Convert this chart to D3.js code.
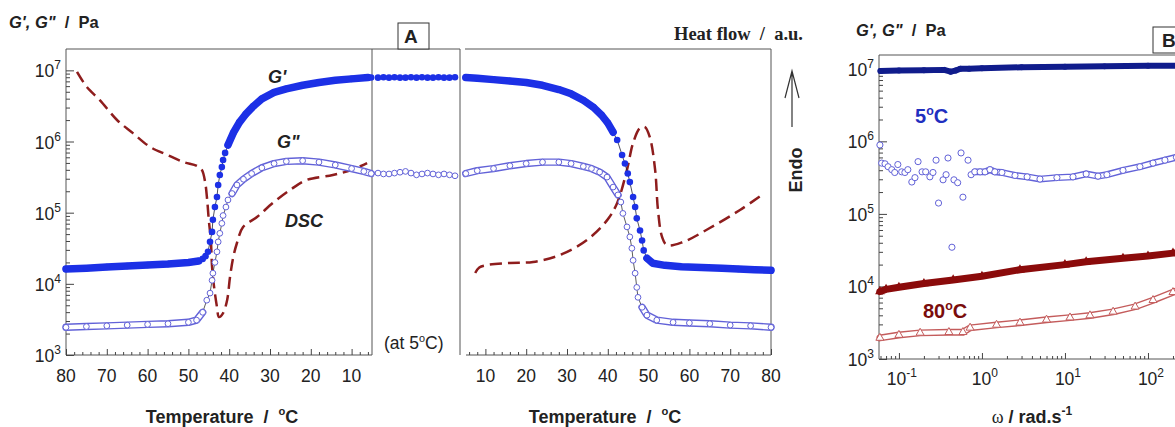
<!DOCTYPE html>
<html>
<head>
<meta charset="utf-8">
<script src="https://cdnjs.cloudflare.com/ajax/libs/d3/7.8.5/d3.min.js"></script>
<style>
  body { margin: 0; background: #fff; }
  svg { display: block; font-family: Arial, 'Liberation Sans', sans-serif; }
</style>
</head>
<body>
<svg id="chart" width="1175" height="427"></svg>
<script>
// ---- panel A, cooling 80 -> 5 C
const coolTp  = [80, 75, 70, 65, 60, 55, 50, 47.5, 46.5, 45.8, 45.2, 44.7, 44.2, 44.0, 43.5, 43.0, 42.7, 42.3, 41.8, 41.5, 41.0, 40.3, 39.0, 37.5, 36.0, 34.0, 32.0, 29.0, 26.0, 22.0, 18.0, 14.0, 10.0, 6.0, 5.2];
const coolGp  = [1.62e4, 1.66e4, 1.72e4, 1.78e4, 1.84e4, 1.9e4, 2.0e4, 2.09e4, 2.24e4, 2.45e4, 2.82e4, 3.89e4, 5.37e4, 7.94e4, 1.2e5, 1.66e5, 2.45e5, 3.39e5, 4.37e5, 5.5e5, 6.92e5, 8.9e5, 1.32e6, 1.86e6, 2.4e6, 3.16e6, 3.98e6, 4.9e6, 5.5e6, 6.17e6, 6.76e6, 7.24e6, 7.59e6, 7.94e6, 7.94e6];
const coolTpp = [80, 75, 70, 65, 60, 55, 50, 48, 46.5, 45.5, 44.7, 44.2, 44.0, 43.5, 43.0, 42.7, 42.3, 41.8, 41.5, 40.8, 40.3, 39.3, 38.1, 36.5, 34.5, 32, 29, 26, 22, 18, 14, 10, 7, 5.2];
const coolGpp = [2.45e3, 2.51e3, 2.57e3, 2.63e3, 2.69e3, 2.75e3, 2.88e3, 3.09e3, 3.98e3, 5.89e3, 7.41e3, 1.12e4, 1.41e4, 2.0e4, 2.82e4, 3.89e4, 5.13e4, 7.08e4, 9.12e4, 1.2e5, 1.51e5, 1.86e5, 2.45e5, 2.95e5, 3.55e5, 4.27e5, 4.9e5, 5.25e5, 5.37e5, 5.13e5, 4.68e5, 4.17e5, 3.8e5, 3.55e5];

// ---- panel A, isothermal at 5 C
const midGp  = [7.9e6, 8.0e6, 7.9e6, 8.0e6, 7.9e6, 7.9e6, 8.0e6, 7.9e6, 8.0e6, 7.9e6, 7.9e6, 8.0e6, 7.9e6, 7.9e6, 8.0e6];
const midGpp = [3.6e5, 3.5e5, 3.5e5, 3.6e5, 3.7e5, 3.8e5, 3.6e5, 3.4e5, 3.5e5, 3.6e5, 3.5e5, 3.4e5, 3.5e5, 3.4e5, 3.3e5];

// ---- panel A, heating 5 -> 80 C
const heatTp  = [5.2, 8, 12, 16, 20, 24, 28, 31, 34, 36.5, 38.5, 40, 41.3, 42.3, 43.5, 44.2, 44.9, 45.4, 46.2, 46.7, 47.1, 47.9, 48.4, 48.8, 49.6, 51, 54, 58, 63, 68, 72, 76, 80];
const heatGp  = [7.94e6, 7.76e6, 7.41e6, 7.08e6, 6.76e6, 6.17e6, 5.37e6, 4.68e6, 3.8e6, 3.02e6, 2.34e6, 1.82e6, 1.35e6, 1.05e6, 6.46e5, 4.9e5, 3.55e5, 2.69e5, 1.66e5, 1.2e5, 8.32e4, 5.62e4, 4.07e4, 2.95e4, 2.29e4, 1.95e4, 1.82e4, 1.74e4, 1.7e4, 1.66e4, 1.62e4, 1.58e4, 1.55e4];
const heatTpp = [5.2, 8, 12, 16, 20, 24, 28, 31, 34, 36, 38, 39.8, 41.3, 42.5, 43.2, 43.7, 44.7, 45.4, 45.9, 46.2, 46.7, 47.1, 47.4, 48.4, 49.6, 52, 56, 60, 65, 70, 75, 80];
const heatGpp = [3.55e5, 3.89e5, 4.17e5, 4.57e5, 4.9e5, 5.13e5, 5.13e5, 4.9e5, 4.47e5, 4.17e5, 3.72e5, 3.16e5, 2.29e5, 1.78e5, 1.41e5, 9.77e4, 6.31e4, 4.57e4, 3.16e4, 2.14e4, 1.41e4, 8.91e3, 6.46e3, 4.68e3, 3.63e3, 3.09e3, 2.88e3, 2.82e3, 2.75e3, 2.63e3, 2.57e3, 2.45e3];

// ---- DSC heat flow (a.u.)
const dscCoolT = [77.3, 74.9, 71.7, 67.5, 63.6, 59.4, 55.2, 51.3, 47.9, 46.7, 45.9, 45.4, 45.0, 44.5, 44.2, 43.7, 43.0, 42.5, 41.5, 40.5, 39.8, 39.0, 38.1, 36.6, 33.2, 29.3, 25.1, 21, 14.6, 10, 6.2];
const dscCool  = [92.5, 87.6, 83.3, 76.8, 72.5, 68, 65.4, 63.1, 61.8, 60.5, 56.5, 50.7, 44.1, 37.6, 28.8, 22.2, 15.7, 12.4, 13.7, 18, 25.5, 32, 36.6, 41.8, 45.1, 49.7, 53.9, 57.2, 58.8, 60.5, 62.7];
const dscHeatT = [7.5, 8.5, 10.4, 16, 21.7, 28.3, 34.9, 39.8, 42.3, 44.7, 46.2, 47.9, 49.1, 50.3, 51.6, 52.3, 53.3, 54.5, 58.4, 65, 72.4, 77.8];
const dscHeat  = [26.8, 28.6, 29.4, 30.1, 30.4, 32.7, 37.6, 44, 49.7, 60.5, 69.3, 74.2, 74.5, 71.2, 60.5, 47.4, 38.6, 35.9, 36.9, 41.5, 47.4, 52.3];

// ---- panel B, frequency sweeps
const wGp5  = [0.06, 0.1, 0.2, 0.35, 0.42, 0.48, 0.55, 0.7, 1, 3, 10, 30, 100, 300];
const gp5   = [9.33e6, 9.44e6, 9.55e6, 9.66e6, 9.12e6, 9.44e6, 1.0e7, 1.0e7, 1.02e7, 1.05e7, 1.07e7, 1.08e7, 1.1e7, 1.1e7];
const wGpp5 = [0.059, 0.062, 0.068, 0.074, 0.082, 0.089, 0.097, 0.108, 0.118, 0.128, 0.143, 0.156, 0.17, 0.19, 0.21, 0.236, 0.257, 0.28, 0.30, 0.34, 0.37, 0.39, 0.435, 0.46, 0.51, 0.56, 0.59, 0.68, 0.74, 0.82, 0.95, 1.09, 1.25, 1.43, 1.74, 2.5, 3.5, 5, 8, 12.5, 18, 25, 32, 50, 80, 115, 160, 220, 300];
const gpp5  = [8.91e5, 5.01e5, 4.9e5, 4.47e5, 4.07e5, 3.72e5, 4.79e5, 3.8e5, 3.72e5, 4.07e5, 2.75e5, 3.16e5, 5.25e5, 3.8e5, 3.8e5, 3.24e5, 3.72e5, 5.5e5, 1.41e5, 2.95e5, 3.47e5, 5.89e5, 3.47e4, 2.95e5, 2.69e5, 6.92e5, 1.7e5, 5.5e5, 3.47e5, 3.8e5, 3.8e5, 3.8e5, 4.07e5, 3.8e5, 3.72e5, 3.39e5, 3.24e5, 3.02e5, 3.16e5, 3.24e5, 3.55e5, 3.31e5, 3.47e5, 3.98e5, 4.47e5, 5.01e5, 5.5e5, 6.03e5, 6.61e5];
const wGp80  = [0.059, 0.07, 0.1, 0.2, 0.45, 1, 2.87, 10, 18, 50, 100, 200, 300];
const gp80   = [8.51e3, 9.12e3, 9.77e3, 1.1e4, 1.23e4, 1.38e4, 1.7e4, 2.0e4, 2.19e4, 2.45e4, 2.63e4, 2.88e4, 3.02e4];
const wGpp80 = [0.059, 0.1, 0.18, 0.4, 0.59, 0.72, 1.5, 2.87, 6, 11.5, 20, 38, 70, 115, 200, 300];
const gpp80  = [1.95e3, 2.14e3, 2.29e3, 2.34e3, 2.34e3, 2.69e3, 2.95e3, 3.16e3, 3.47e3, 3.72e3, 3.98e3, 4.47e3, 5.25e3, 6.46e3, 8.32e3, 1.0e4];

const tempTicks = [10, 20, 30, 40, 50, 60, 70, 80];
const decades = [1e3, 1e4, 1e5, 1e6, 1e7];
const freqDecades = [0.1, 1, 10, 100];

const svg = d3.select("#chart");

// scales
const yA = d3.scaleLog().domain([1e3, Math.pow(10, 7.3)]).range([355, 49]);
const xCool = d3.scaleLinear().domain([80, 5]).range([66, 372]);
const xHeat = d3.scaleLinear().domain([5, 80]).range([465, 771]);
const xMid = d3.scaleLinear().domain([0, midGp.length - 1]).range([378, 455]);
const yDsc = d3.scaleLinear().domain([0, 100]).range([355, 49]);
const xB = d3.scaleLog().domain([Math.pow(10, -1.24), 1e3]).range([879, 1231]);
const yB = d3.scaleLog().domain([1e3, Math.pow(10, 7.19)]).range([359, 55]);

// colours
const cGp = "#1c30e6", cGpp = "#6262d8", cDsc = "#8e1d1d";
const cNavy = "#101c8c", cRed = "#8b0b0b", cPink = "#c45c5c";

// frames
const frame = svg.append("g").attr("stroke", "#555").attr("stroke-width", 1).attr("fill", "none");
function seg(x1, y1, x2, y2) {
  frame.append("line").attr("x1", x1).attr("y1", y1).attr("x2", x2).attr("y2", y2);
}
seg(66, 49, 460, 49); seg(66, 49, 66, 355); seg(66, 355, 372, 355);
seg(372, 49, 372, 355); seg(460, 49, 460, 355);
seg(465, 49, 771, 49); seg(466, 355, 771, 355); seg(771, 49, 771, 355);
seg(879, 55, 1175, 55); seg(879, 55, 879, 359); seg(879, 359, 1175, 359);

// axes helpers
function minorLog(lo, hi, domainMax) {
  const out = [];
  for (let e = lo; e <= hi; e++) for (let m = 2; m <= 9; m++) {
    const v = m * Math.pow(10, e);
    if (v < domainMax) out.push(v);
  }
  return out;
}
function bottomTicks(scale, y, majors, minors) {
  const g = svg.append("g").attr("transform", `translate(0,${y})`).attr("color", "#444");
  g.append("g").call(d3.axisBottom(scale).tickValues(minors).tickSize(-3).tickFormat(""))
    .call(s => s.select(".domain").remove());
  g.append("g").call(d3.axisBottom(scale).tickValues(majors).tickSize(-6).tickFormat(""))
    .call(s => s.select(".domain").remove());
}
function leftTicks(scale, x, majors, minors) {
  const g = svg.append("g").attr("transform", `translate(${x},0)`).attr("color", "#444");
  g.append("g").call(d3.axisLeft(scale).tickValues(minors).tickSize(-4).tickFormat(""))
    .call(s => s.select(".domain").remove());
  g.append("g").call(d3.axisLeft(scale).tickValues(majors).tickSize(-8).tickFormat(""))
    .call(s => s.select(".domain").remove());
}
function powLabel(sel, exp) {
  sel.append("tspan").text("10");
  sel.append("tspan").attr("dy", -8).attr("font-size", 12).text(exp);
}

const minorTempCool = d3.range(6, 81, 2).filter(d => d % 10 !== 0);
bottomTicks(xCool, 355, tempTicks, minorTempCool);
bottomTicks(xHeat, 355, tempTicks, minorTempCool);
leftTicks(yA, 66, decades, minorLog(3, 7, Math.pow(10, 7.25)));
bottomTicks(xB, 359, freqDecades.concat([1000]), minorLog(-2, 2, 1e3).filter(v => v > xB.domain()[0]));
leftTicks(yB, 879, decades, minorLog(3, 7, Math.pow(10, 7.15)));

// tick labels
const lab = svg.append("g").attr("fill", "#222").attr("font-size", 17.5);
lab.selectAll("text.tc").data(tempTicks).join("text").attr("class", "tc")
  .attr("x", d => xCool(d)).attr("y", 382).attr("text-anchor", "middle").text(d => d);
lab.selectAll("text.th").data(tempTicks).join("text").attr("class", "th")
  .attr("x", d => xHeat(d)).attr("y", 382).attr("text-anchor", "middle").text(d => d);
lab.selectAll("text.ya").data(decades).join("text").attr("class", "ya")
  .attr("x", 61).attr("y", d => yA(d) + 7).attr("text-anchor", "end")
  .each(function(d) { powLabel(d3.select(this), Math.round(Math.log10(d))); });
lab.selectAll("text.yb").data(decades).join("text").attr("class", "yb")
  .attr("x", 874).attr("y", d => yB(d) + 7).attr("text-anchor", "end")
  .each(function(d) { powLabel(d3.select(this), Math.round(Math.log10(d))); });
lab.selectAll("text.xb").data(freqDecades).join("text").attr("class", "xb")
  .attr("x", d => xB(d) + 3).attr("y", 385).attr("text-anchor", "middle")
  .each(function(d) { powLabel(d3.select(this), Math.round(Math.log10(d))); });

// DSC dashed curves
const dscLine = d3.line().curve(d3.curveCatmullRom.alpha(0.5));
svg.append("path")
  .attr("d", dscLine(dscCoolT.map((t, i) => [xCool(t), yDsc(dscCool[i])])))
  .attr("fill", "none").attr("stroke", cDsc).attr("stroke-width", 2.5).attr("stroke-dasharray", "12,6");
svg.append("path")
  .attr("d", dscLine(dscHeatT.map((t, i) => [xHeat(t), yDsc(dscHeat[i])])))
  .attr("fill", "none").attr("stroke", cDsc).attr("stroke-width", 2.5).attr("stroke-dasharray", "12,6");

// dense-marker series: thin joining line, a band where markers crowd, then markers
function series(xs, ys, sx, sy, o) {
  const g = svg.append("g");
  const pts = xs.map((x, i) => [sx(x), sy(ys[i])]);
  const line = d3.line();
  if (o.thin) {
    g.append("path").attr("d", line(pts)).attr("fill", "none")
      .attr("stroke", o.thin).attr("stroke-width", 0.8);
  }
  if (o.band) {
    const runs = [];
    let cur = null;
    for (let i = 0; i < pts.length - 1; i++) {
      const dx = Math.abs(pts[i + 1][0] - pts[i][0]);
      const dy = Math.abs(pts[i + 1][1] - pts[i][1]);
      if (dx >= 4.5 && dy <= 2.5 * dx) {
        if (!cur) { cur = [pts[i]]; runs.push(cur); }
        cur.push(pts[i + 1]);
      } else cur = null;
    }
    const layers = o.open ? [[o.color, o.band + 1.4], ["#fff", o.band - 1.4]] : [[o.color, o.band]];
    layers.forEach(([c, w]) => {
      g.append("g").selectAll("path").data(runs).join("path")
        .attr("d", line).attr("fill", "none").attr("stroke", c).attr("stroke-width", w)
        .attr("stroke-linecap", "round").attr("stroke-linejoin", "round");
    });
  }
  const sym = d3.symbol().type(o.tri ? d3.symbolTriangle : d3.symbolCircle).size(o.size);
  g.append("g").selectAll("path").data(pts).join("path")
    .attr("transform", d => `translate(${d[0]},${d[1]})`)
    .attr("d", sym)
    .attr("fill", o.open ? "#fff" : o.color)
    .attr("stroke", o.color).attr("stroke-width", o.open ? 1 : 0);
}

series(coolTpp, coolGpp, xCool, yA, { color: cGpp, open: true, band: 6, size: 26, thin: "#333" });
series(coolTp, coolGp, xCool, yA, { color: cGp, band: 7.5, size: 34, thin: "#223" });
series(d3.range(midGpp.length), midGpp, xMid, yA, { color: cGpp, open: true, size: 26 });
series(d3.range(midGp.length), midGp, xMid, yA, { color: cGp, size: 34 });
series(heatTpp, heatGpp, xHeat, yA, { color: cGpp, open: true, band: 6, size: 26, thin: "#333" });
series(heatTp, heatGp, xHeat, yA, { color: cGp, band: 7.5, size: 34, thin: "#223" });

series(wGpp80, gpp80, xB, yB, { color: cPink, open: true, tri: true, band: 5.5, size: 28 });
series(wGp80, gp80, xB, yB, { color: cRed, tri: true, band: 7, size: 40 });
series(wGpp5, gpp5, xB, yB, { color: cGpp, open: true, band: 5.5, size: 30 });
series(wGp5, gp5, xB, yB, { color: cNavy, band: 6, size: 28 });

// text annotations
const txt = svg.append("g").attr("fill", "#222");
function degText(x, y, before, after, size, attrs) {
  const t = txt.append("text").attr("x", x).attr("y", y).attr("font-size", size);
  Object.entries(attrs || {}).forEach(([k, v]) => t.attr(k, v));
  t.append("tspan").text(before);
  t.append("tspan").attr("dy", -size * 0.42).attr("font-size", size * 0.62).text("o");
  t.append("tspan").attr("dy", size * 0.42).text(after);
  return t;
}

// y titles
[[9, 28], [856, 36]].forEach(([x, y]) => {
  const t = txt.append("text").attr("x", x).attr("y", y).attr("font-size", 16.5).attr("font-weight", "bold");
  t.append("tspan").attr("font-style", "italic").text("G', G\"");
  t.append("tspan").attr("xml:space", "preserve").text("  /  Pa");
});

// x titles
degText(222, 423, "Temperature  /  ", "C", 18, { "font-weight": "bold", "text-anchor": "middle", "xml:space": "preserve" });
degText(605, 423, "Temperature  /  ", "C", 18, { "font-weight": "bold", "text-anchor": "middle", "xml:space": "preserve" });
{
  const t = txt.append("text").attr("x", 1032).attr("y", 423).attr("font-size", 18)
    .attr("font-weight", "bold").attr("text-anchor", "middle").attr("xml:space", "preserve");
  t.append("tspan").attr("font-family", "'Liberation Serif', 'DejaVu Serif', serif").attr("font-weight", "normal").text("\u03c9");
  t.append("tspan").text(" / rad.s");
  t.append("tspan").attr("dy", -8).attr("font-size", 12).text("-1");
}

// heat flow axis
txt.append("text").attr("x", 803).attr("y", 40).attr("text-anchor", "end")
  .attr("font-family", "'Liberation Serif', 'Times New Roman', serif").attr("font-weight", "bold")
  .attr("font-size", 18.5).attr("xml:space", "preserve").text("Heat flow  /  a.u.");
svg.append("path").attr("d", "M792,127 L792,71 M785,98 L792,71 L799,98")
  .attr("fill", "none").attr("stroke", "#333").attr("stroke-width", 1.2);
txt.append("text").attr("transform", "translate(802,170) rotate(-90)").attr("text-anchor", "middle")
  .attr("font-weight", "bold").attr("font-size", 18).text("Endo");

// curve labels
txt.append("text").attr("x", 268).attr("y", 83).attr("font-size", 18).attr("font-weight", "bold")
  .attr("font-style", "italic").text("G'");
txt.append("text").attr("x", 277).attr("y", 148).attr("font-size", 18).attr("font-weight", "bold")
  .attr("font-style", "italic").text("G\"");
txt.append("text").attr("x", 285).attr("y", 227).attr("font-size", 18).attr("font-weight", "bold")
  .attr("font-style", "italic").text("DSC");
degText(384, 349, "(at 5", "C)", 17.5, {});
degText(915, 123, "5", "C", 20, { "font-weight": "bold", fill: "#1f2fc0" });
degText(923, 318, "80", "C", 20, { "font-weight": "bold", fill: "#7a0c0c" });

// panel boxes
[[398, 23, 31, 26, "A", 404], [1153, 27, 40, 26, "B", 1162]].forEach(([x, y, w, h, s, tx]) => {
  svg.append("rect").attr("x", x).attr("y", y).attr("width", w).attr("height", h)
    .attr("fill", "#fff").attr("stroke", "#333").attr("stroke-width", 1);
  svg.append("text").attr("x", tx).attr("y", y + h - 6).attr("font-size", 19)
    .attr("font-weight", "bold").attr("fill", "#222").text(s);
});
</script>
</body>
</html>
